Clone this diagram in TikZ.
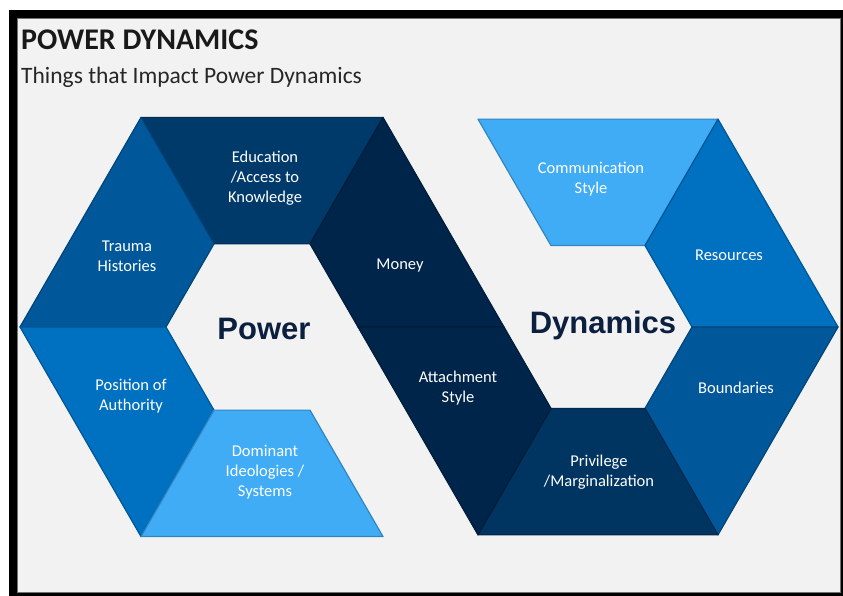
\documentclass[tikz,border=0pt]{standalone}
\usepackage{fontspec}
\setmainfont{Carlito}
\newfontfamily\hubfont{Liberation Sans}
\usepackage{xcolor}
\usepackage{tikz}
\usetikzlibrary{calc, positioning}

\definecolor{panel}{HTML}{F2F2F2}
\definecolor{skyblue}{HTML}{40ACF5}
\definecolor{officeblue}{HTML}{0070C0}
\definecolor{steelblue}{HTML}{00589B}
\definecolor{deepblue}{HTML}{003A6B}
\definecolor{navyblue}{HTML}{00254A}
\definecolor{hubtext}{HTML}{0B1F3F}

\begin{document}
\begin{tikzpicture}[
    x=1pt, y=1pt,
    piece/.style={fill=#1, draw=#1!78!black, line width=1.2pt, line join=round},
    lbl/.style={text=white, align=center, font=\fontsize{16.5}{20}\selectfont},
    hub/.style={text=hubtext, font=\hubfont\bfseries\fontsize{31}{36}\selectfont},
]

% Page and frame
\fill[white] (0,0) rectangle (843,596);
\useasboundingbox (0,0) rectangle (843,596);
\fill[black] (9,0) rectangle (843,586);
\fill[panel, draw=black!55, line width=0.8pt] (17,4) rectangle (840,578);

% Heading
\node[anchor=base west, inner sep=0pt, text=black!90, font=\bfseries\fontsize{30}{36}\selectfont] (title) at (21,546) {POWER DYNAMICS};
\node[anchor=base west, inner sep=0pt, text=black!85, font=\fontsize{23.5}{28}\selectfont] (subtitle) at (21,512) {Things that Impact Power Dynamics};

% Hexagon corners (outer and inner ring)
\coordinate (lc) at (262,269);
\coordinate (rc) at (598,269);
\foreach \a in {0,60,...,300} {
    \coordinate (lo\a) at ($(lc)+(\a:242)$);
    \coordinate (li\a) at ($(lc)+(\a:96)$);
    \coordinate (ro\a) at ($(rc)+(\a:240)$);
    \coordinate (ri\a) at ($(rc)+(\a:94)$);
}

% Left hexagon
\filldraw[piece=deepblue] (lo60) -- (lo120) -- (li120) -- (li60) -- cycle;
\filldraw[piece=steelblue] (lo120) -- (lo180) -- (li180) -- (li120) -- cycle;
\filldraw[piece=officeblue] (lo180) -- (lo240) -- (li240) -- (li180) -- cycle;
\filldraw[piece=skyblue] (lo240) -- (lo300) -- (li300) -- (li240) -- cycle;
\filldraw[piece=navyblue] (lo0) -- (lo60) -- (li60) -- (li0) -- cycle;

% Right hexagon
\filldraw[piece=skyblue] (ro60) -- (ro120) -- (ri120) -- (ri60) -- cycle;
\filldraw[piece=officeblue] (ro0) -- (ro60) -- (ri60) -- (ri0) -- cycle;
\filldraw[piece=steelblue] (ro300) -- (ro0) -- (ri0) -- (ri300) -- cycle;
\filldraw[piece=deepblue!92!black] (ro240) -- (ro300) -- (ri300) -- (ri240) -- cycle;
\filldraw[piece=navyblue] (ro180) -- (ro240) -- (ri240) -- (ri180) -- cycle;

% Labels
\node[lbl] (education) at (265,418) {Education\\/Access to\\Knowledge};
\node[lbl] (trauma) at (127,340) {Trauma\\Histories};
\node[lbl] (authority) at (131,200) {Position of\\Authority};
\node[lbl] (ideologies) at (265,124) {Dominant\\Ideologies /\\Systems};
\node[lbl] (money) at (400,330) {Money};
\node[lbl] (attachment) at (458,208) {Attachment\\Style};
\node[lbl] (privilege) at (599,124) {Privilege\\/Marginalization};
\node[lbl] (boundaries) at (736,208) {Boundaries};
\node[lbl] (resources) at (729,341) {Resources};
\node[lbl] (communication) at (591,417) {Communication\\Style};

\node[hub] (power) at (264,267) {Power};
\node[hub] (dynamics) at (603,271) {Dynamics};

\end{tikzpicture}
\end{document}
